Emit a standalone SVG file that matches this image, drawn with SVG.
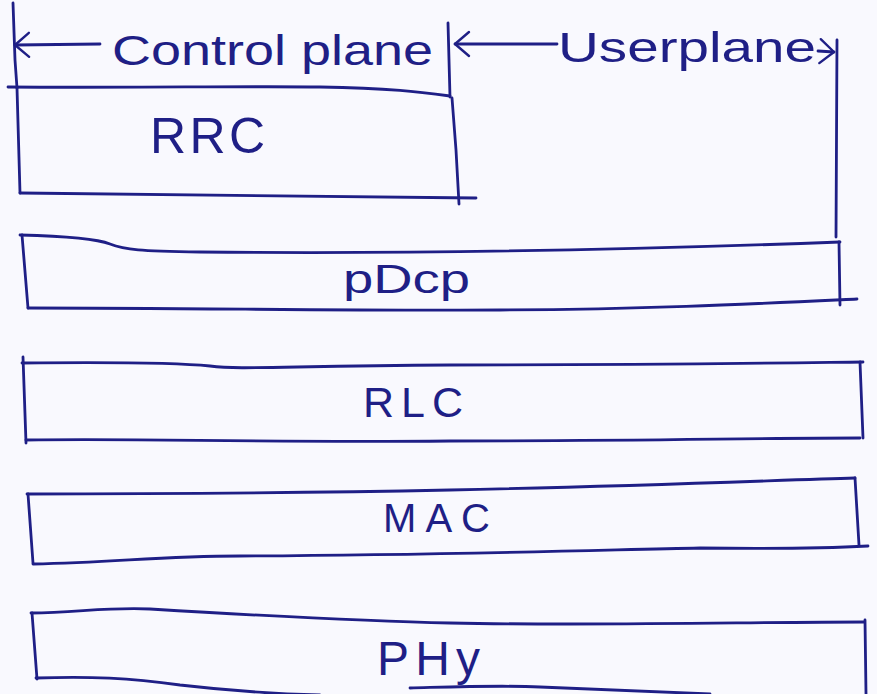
<svg xmlns="http://www.w3.org/2000/svg" width="877" height="694" viewBox="0 0 877 694">
  <defs>
    <style>
      .ink { fill: none; stroke: #1f1f86; stroke-width: 2.8; stroke-linecap: round; stroke-linejoin: round; }
      .lbl { font-family: "Liberation Sans", "DejaVu Sans", sans-serif; fill: #1f1f86; }
      .plane { font-size: 42px; }
    </style>
    <!-- open chevron head; reversed automatically at path starts -->
    <marker id="head" viewBox="0 0 18 28" refX="16" refY="14" markerWidth="18" markerHeight="28" markerUnits="userSpaceOnUse" orient="auto-start-reverse">
      <path d="M2 2 L16 14 L2 26" fill="none" stroke="#1f1f86" stroke-width="2.4" stroke-linecap="round" stroke-linejoin="round"/>
    </marker>
  </defs>
  <rect width="877" height="694" fill="#f9f9fe"/>

  <!-- plane boundary ticks and labels -->
  <g id="planes">
    <path class="ink" d="M13 3 L15 60 L17 88"/>
    <path class="ink" d="M448 23 L450 97"/>
    <path class="ink" d="M837 40 L836 237"/>
    <text class="lbl plane" x="112" y="65" textLength="321" lengthAdjust="spacingAndGlyphs">Control plane</text>
    <text class="lbl plane" x="558" y="62" textLength="258" lengthAdjust="spacingAndGlyphs">Userplane</text>
  </g>

  <g id="connectors">
    <path class="ink" d="M15 45 L100 44" marker-start="url(#head)"/>
    <path class="ink" d="M455 44 L557 44" marker-start="url(#head)"/>
    <path class="ink" d="M818 51 L834 52" marker-end="url(#head)"/>
  </g>

  <g id="rrc">
    <path class="ink" d="M8 87 C120 88 250 86 320 87 C390 88 420 92 450 96"/>
    <path class="ink" d="M17 88 L20 193"/>
    <path class="ink" d="M452 98 L456 150 L459 204"/>
    <path class="ink" d="M20 193 C150 195 300 197 476 198"/>
    <text class="lbl" x="150" y="153" font-size="50" textLength="115" lengthAdjust="spacing">RRC</text>
  </g>

  <g id="pdcp">
    <path class="ink" d="M20 235 C60 236 95 238 110 244 C125 250 140 251 200 252 C400 254 600 251 840 242"/>
    <path class="ink" d="M22 235 L28 308"/>
    <path class="ink" d="M839 242 L840 305"/>
    <path class="ink" d="M28 308 C200 308 350 311 500 310 C650 309 750 304 857 299"/>
    <text class="lbl" x="343" y="293" font-size="40" textLength="127" lengthAdjust="spacingAndGlyphs">pDcp</text>
  </g>

  <g id="rlc">
    <path class="ink" d="M22 363 C120 362 180 363 210 366 C240 370 280 366 450 365 C650 365 780 363 863 362"/>
    <path class="ink" d="M23 357 L26 443"/>
    <path class="ink" d="M860 362 L863 438"/>
    <path class="ink" d="M26 440 C150 438 250 443 450 441 C650 441 750 438 860 438"/>
    <text class="lbl" x="363" y="417" font-size="43" textLength="100" lengthAdjust="spacing">RLC</text>
  </g>

  <g id="mac">
    <path class="ink" d="M27 494 C200 494 350 492 450 490 C650 486 780 480 855 478"/>
    <path class="ink" d="M28 494 L33 563"/>
    <path class="ink" d="M855 478 L859 545"/>
    <path class="ink" d="M33 564 C120 562 160 556 240 556 C450 555 600 550 700 548 C780 549 830 548 868 546"/>
    <text class="lbl" x="383" y="532" font-size="40" textLength="107" lengthAdjust="spacing">MAC</text>
  </g>

  <g id="phy">
    <path class="ink" d="M31 613 C80 612 110 607 150 609 C250 615 350 621 450 623 C600 626 750 622 864 622"/>
    <path class="ink" d="M32 613 L37 679"/>
    <path class="ink" d="M865 620 L866 694"/>
    <path class="ink" d="M36 678 C90 676 130 678 180 685 C240 692 280 694 320 695"/>
    <path class="ink" d="M410 688 C450 687 500 685 540 687 C600 690 660 692 710 694"/>
    <text class="lbl" x="377" y="675" font-size="48" textLength="103" lengthAdjust="spacing">PHy</text>
  </g>
</svg>
